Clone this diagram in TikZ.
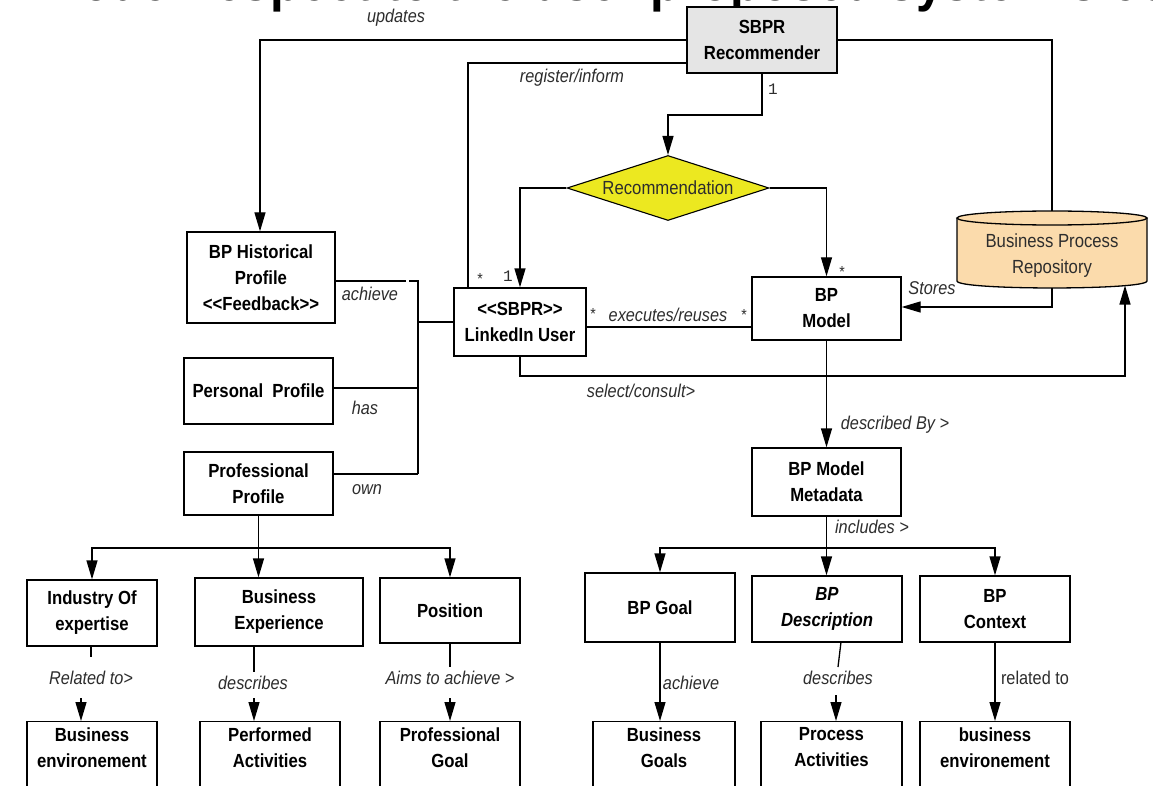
\documentclass[tikz,border=0pt]{standalone}
\usepackage{fontspec}
\setmainfont{Liberation Sans}[FakeStretch=0.88]
\newfontfamily\monofnt{Liberation Mono}
\usetikzlibrary{arrows.meta,shapes.geometric}
\definecolor{recgray}{RGB}{229,229,229}
\definecolor{decyellow}{RGB}{236,232,32}
\definecolor{repopeach}{RGB}{251,219,172}
\definecolor{lblgray}{RGB}{45,45,45}
\begin{document}
\begin{tikzpicture}[x=1pt,y=-1pt,
  box/.style={draw, line width=1.3pt, inner sep=2pt, align=center,
    font=\fontsize{19}{26}\selectfont\bfseries},
  leaf/.style={box, anchor=north, inner ysep=6pt},
  plain/.style={inner sep=0pt, align=center, text=lblgray,
    font=\fontsize{19}{26}\selectfont},
  lbl/.style={inner sep=0pt, text=lblgray, font=\fontsize{18.5}{20}\selectfont\itshape},
  card/.style={inner sep=0pt, text=lblgray, font=\fontsize{16}{16}\selectfont},
  conn/.style={line width=1.3pt},
  arr/.style={conn, -{Triangle[length=19pt,width=11pt]}},
]
\fill[white] (0,0) rectangle (1153,786);
\useasboundingbox (0,0) rectangle (1153,786);
\begin{scope}
\clip (0,0) rectangle (1153,786);

% caption line running off the top edge
\node[anchor=base west, inner sep=0pt, font=\fontsize{56}{56}\selectfont\bfseries]
  (caption) at (81,1) {odel respect to the user proposed system's conceptual model};

% ---- upper part: recommender, decision, user, model, repository
\node[box, fill=recgray, minimum width=150pt, minimum height=66pt] (rec) at (762,40) {SBPR\\Recommender};
\node[draw, line width=1.1pt, fill=decyellow, diamond, shape aspect=3.1,
  minimum width=202pt, minimum height=65pt, inner sep=0pt, text=lblgray,
  font=\fontsize{19}{20}\selectfont] (dec) at (668,188) {Recommendation};

\node[box, minimum width=148pt, minimum height=91pt] (hist) at (261,277.5)
  {BP Historical\\Profile\\<\kern0pt<Feedback>\kern0pt>};
\node[box, minimum width=149pt, minimum height=66pt] (pers) at (258.5,391) {Personal~~Profile};
\node[box, minimum width=149pt, minimum height=63pt] (prof) at (258.5,483.5) {Professional\\Profile};
\node[box, minimum width=132pt, minimum height=68pt] (user) at (520,322)
  {<\kern0pt<SBPR>\kern0pt>\\LinkedIn User};
\node[box, minimum width=149pt, minimum height=63pt] (bpm) at (826.5,308.5) {BP\\Model};
\node[box, minimum width=149pt, minimum height=68pt] (meta) at (826.5,482) {BP Model\\Metadata};

% repository cylinder
\fill[repopeach] (957,218) -- (957,281) .. controls (957,290.3) and (1147,290.3) .. (1147,281) -- (1147,218) -- cycle;
\fill[repopeach] (1052,218) ellipse (95 and 7);
\draw[conn] (957,218) -- (957,281) .. controls (957,290.3) and (1147,290.3) .. (1147,281) -- (1147,218);
\draw[conn] (1052,218) ellipse (95 and 7);
\node[plain] (repo) at (1052,256) {Business Process\\Repository};
\coordinate (repoTop) at (1052,211);
\coordinate (repoBot) at (1052,288);
\coordinate (repoIn) at (1125,285.5);

% ---- profile branch
\node[box, minimum width=130pt, minimum height=66pt] (ind) at (92,613) {Industry Of\\expertise};
\node[box, minimum width=168pt, minimum height=68pt] (bexp) at (279,612) {Business\\Experience};
\node[box, minimum width=140pt, minimum height=65pt] (pos) at (450,610.5) {Position};
\node[leaf, minimum width=130pt] (benvL) at (92,721) {Business\\environement\\\mbox{}};
\node[leaf, minimum width=140pt] (perf) at (270,721) {Performed\\Activities\\\mbox{}};
\node[leaf, minimum width=140pt] (pgoal) at (450,721) {Professional\\Goal\\\mbox{}};

% ---- metadata branch
\node[box, minimum width=150pt, minimum height=69pt] (goal) at (660,607.5) {BP Goal};
\node[box, minimum width=150pt, minimum height=66pt, font=\fontsize{19}{26}\selectfont\bfseries\itshape]
  (desc) at (827,609) {BP\\Description};
\node[box, minimum width=150pt, minimum height=66pt] (ctx) at (995,609) {BP\\Context};
\node[leaf, minimum width=142pt] (bgoals) at (664,721) {Business\\Goals\\\mbox{}};
\node[leaf, minimum width=141pt] (proc) at (831.5,721) {Process\\Activities\\\mbox{}};
\node[leaf, minimum width=150pt] (benvR) at (995,721) {business\\environement\\\mbox{}};

% ---- connectors from the recommender
\coordinate (updL) at (260,40);
\draw[arr] (rec.west) -- (updL) -- (updL |- hist.north);
\coordinate (updR) at (1052,40);
\draw[conn] (rec.east) -- (updR) -- (repoTop);
\coordinate (regC) at (468,63);
\draw[conn] (rec.west |- regC) -- (regC) -- (regC |- user.north);
\coordinate (r1) at (762,115);
\draw[arr] (rec.south) -- (r1) -- (r1 -| dec.north) -- (dec.north);
\draw[arr] (dec.west) -- (dec.west -| user.north) -- (user.north);
\draw[arr] (dec.east) -- (dec.east -| bpm.north) -- (bpm.north);

% user, model and repository
\coordinate (ex) at (700,327);
\draw[conn] (user.east |- ex) -- (bpm.west |- ex);
\coordinate (sel) at (1125,376);
\draw[arr] (user.south) -- (user.south |- sel) -- (sel) -- (repoIn);
\coordinate (st) at (1052,307);
\draw[arr] (repoBot) -- (st) -- (st -| bpm.east);
\draw[arr] (bpm.south) -- (meta.north);

% user profile associations
\coordinate (jA0) at (409,281);
\coordinate (jA) at (418,281);
\coordinate (jP) at (418,388);
\coordinate (jB) at (418,474);
\coordinate (jU) at (418,322);
\draw[conn] (hist.east |- jA) -- (406,281);
\draw[conn] (jA0) -- (jA) -- (jB);
\draw[conn] (pers.east |- jP) -- (jP);
\draw[conn] (prof.east |- jB) -- (jB);
\draw[conn] (jU) -- (jU -| user.west);

% professional profile children
\coordinate (busL) at (258.5,548);
\draw[arr] (prof.south) -- (prof.south |- bexp.north);
\draw[arr] (busL) -| (ind.north);
\draw[arr] (busL) -| (pos.north);
\coordinate (ia) at (91,657);
\coordinate (ib) at (81,698);
\draw[conn] (ind.south -| ia) -- (ia);
\draw[arr] (ib) -- (ib |- benvL.north);
\coordinate (ba) at (254,672);
\coordinate (bb) at (254,698);
\draw[conn] (bexp.south -| ba) -- (ba);
\draw[arr] (bb) -- (bb |- perf.north);
\coordinate (pa) at (450,698);
\draw[conn] (pos.south) -- (450,667);
\draw[arr] (pa) -- (pa |- pgoal.north);

% metadata children
\coordinate (busR) at (826.5,548);
\draw[arr] (meta.south) -- (meta.south |- desc.north);
\draw[arr] (busR) -| (goal.north);
\draw[arr] (busR) -| (ctx.north);
\draw[arr] (goal.south) -- (goal.south |- bgoals.north);
\coordinate (da) at (841,642);
\coordinate (db) at (838,667);
\coordinate (dc) at (836,695);
\draw[conn] (da) -- (db);
\draw[arr] (dc) -- (dc |- proc.north);
\draw[arr] (ctx.south) -- (ctx.south |- benvR.north);

% ---- labels
\node[lbl] (lUpd) at (396,18) {updates};
\node[lbl] (lReg) at (572,78) {register/inform};
\node[card, font=\fontsize{16}{16}\selectfont\monofnt] (c1) at (773,89) {1};
\node[card] (c2) at (480,279) {*};
\node[card, font=\fontsize{16}{16}\selectfont\monofnt] (c3) at (508,276) {1};
\node[card] (c4) at (842,272) {*};
\node[card] (c5) at (593,314) {*};
\node[lbl] (lExe) at (668,315) {executes/reuses};
\node[card] (c6) at (744,315) {*};
\node[lbl] (lSto) at (932,288) {Stores};
\node[lbl] (lSel) at (641,391) {select/consult>};
\node[lbl] (lDes) at (895,425) {described By >};
\node[lbl] (lInc) at (872,527) {includes >};
\node[lbl] (lAch) at (370,294) {achieve};
\node[lbl] (lHas) at (365,408) {has};
\node[lbl] (lOwn) at (367,490) {own};
\node[lbl] (lRel) at (91,678) {Related to>};
\node[lbl] (lDsc) at (253,683) {describes};
\node[lbl] (lAim) at (450,678) {Aims to achieve >};
\node[lbl] (lAc2) at (691,683) {achieve};
\node[lbl] (lDs2) at (838,678) {describes};
\node[lbl, font=\fontsize{18.5}{20}\selectfont] (lRt) at (1035,678) {related to};
\end{scope}
\end{tikzpicture}
\end{document}
